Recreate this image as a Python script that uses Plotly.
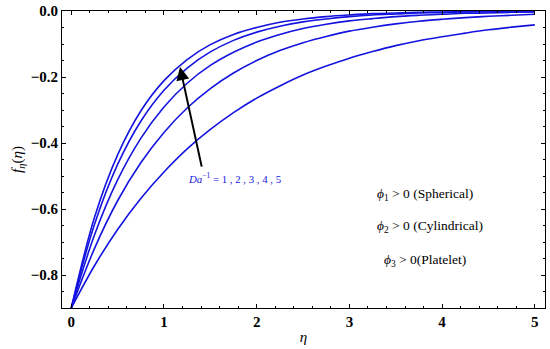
import plotly.graph_objects as go

eta = [0, 0.25, 0.5, 0.75, 1.0, 1.25, 1.5, 1.75, 2.0, 2.25, 2.5, 2.75, 3.0,
       3.25, 3.5, 3.75, 4.0, 4.25, 4.5, 4.75, 5.0]

# f'(eta), Da^-1 = 1 ... 5 (bottom to top)
da1 = [-0.900, -0.772, -0.662, -0.568, -0.488, -0.418, -0.359, -0.308, -0.264, -0.227, -0.194,
       -0.167, -0.143, -0.123, -0.105, -0.090, -0.078, -0.067, -0.057, -0.049, -0.042]
da2 = [-0.900, -0.720, -0.575, -0.460, -0.368, -0.294, -0.235, -0.188, -0.150, -0.120, -0.096,
       -0.077, -0.061, -0.049, -0.039, -0.031, -0.025, -0.020, -0.016, -0.013, -0.010]
da3 = [-0.900, -0.679, -0.512, -0.386, -0.291, -0.219, -0.165, -0.125, -0.094, -0.071, -0.053,
       -0.040, -0.030, -0.023, -0.017, -0.013, -0.010, -0.007, -0.006, -0.004, -0.003]
da4 = [-0.900, -0.647, -0.465, -0.334, -0.240, -0.173, -0.124, -0.089, -0.064, -0.046, -0.033,
       -0.024, -0.017, -0.012, -0.009, -0.006, -0.005, -0.003, -0.002, -0.002, -0.001]
da5 = [-0.900, -0.626, -0.436, -0.303, -0.211, -0.147, -0.102, -0.071, -0.050, -0.034, -0.024,
       -0.017, -0.012, -0.008, -0.006, -0.004, -0.003, -0.002, -0.001, -0.001, -0.001]
series = [da1, da2, da3, da4, da5]

x_ticks = [0, 1, 2, 3, 4, 5]
y_ticks = [0.0, -0.2, -0.4, -0.6, -0.8]
y_ticklabels = ["0.0", "\u22120.2", "\u22120.4", "\u22120.6", "\u22120.8"]

line_color = "#1414e0"
serif = "Liberation Serif, Times New Roman, serif"

fig = go.Figure()
for s in series:
    fig.add_trace(go.Scatter(x=eta, y=s, mode="lines", line=dict(color=line_color, width=1.6, shape="spline", smoothing=1.0),
                             showlegend=False, hoverinfo="skip"))

axis_common = dict(
    showline=True, linecolor="black", linewidth=1, mirror="allticks",
    ticks="inside", ticklen=4, tickcolor="black", tickwidth=1,
    showgrid=False, zeroline=False, automargin=False,
    tickfont=dict(family=serif, size=15, color="black", weight="bold"),
)

fig.update_xaxes(range=[-0.1, 5.11], tickvals=x_ticks, ticktext=[str(v) for v in x_ticks],
                 minor=dict(dtick=0.2, ticks="inside", ticklen=2, tickcolor="black", showgrid=False),
                 title=dict(text="<i>η</i>", font=dict(family=serif, size=15, color="black"), standoff=2),
                 **axis_common)
fig.update_yaxes(range=[-0.9, 0.0], tickvals=y_ticks, ticktext=y_ticklabels,
                 minor=dict(dtick=0.05, ticks="inside", ticklen=2, tickcolor="black", showgrid=False),
                 title=dict(text="<i>f</i><sub><i>η</i></sub>(<i>η</i>)", font=dict(family=serif, size=15, color="black"), standoff=4),
                 **axis_common)

# arrow
fig.add_annotation(x=1.173, y=-0.170, ax=22, ay=101, xref="x", yref="y", axref="pixel", ayref="pixel",
                   text="", showarrow=True, arrowhead=2, arrowsize=1.3, arrowwidth=2, arrowcolor="black")

fig.add_annotation(x=1.763, y=-0.506, xref="x", yref="y", showarrow=False,
                   text="<i>Da</i><sup>\u22121</sup> = 1 , 2 , 3 , 4 , 5",
                   font=dict(family=serif, size=10.8, color=line_color))

labels = [("<i>ϕ</i><sub>1</sub> > 0 (Spherical)", 3.276, -0.555),
          ("<i>ϕ</i><sub>2</sub> > 0 (Cylindrical)", 3.276, -0.654),
          ("<i>ϕ</i><sub>3</sub> > 0(Platelet)", 3.352, -0.755)]
for t, xx, yy in labels:
    fig.add_annotation(x=xx, y=yy, xref="x", yref="y", showarrow=False, text=t, xanchor="left",
                       font=dict(family=serif, size=13.5, color="black"))

fig.update_layout(width=550, height=349, margin=dict(l=62, r=5, t=11, b=41),
                  plot_bgcolor="white", paper_bgcolor="white", hovermode=False)

fig.write_html("out.html", config={"displayModeBar": False, "staticPlot": True},
               post_script="document.body.style.margin='0';document.body.style.overflow='hidden';")
